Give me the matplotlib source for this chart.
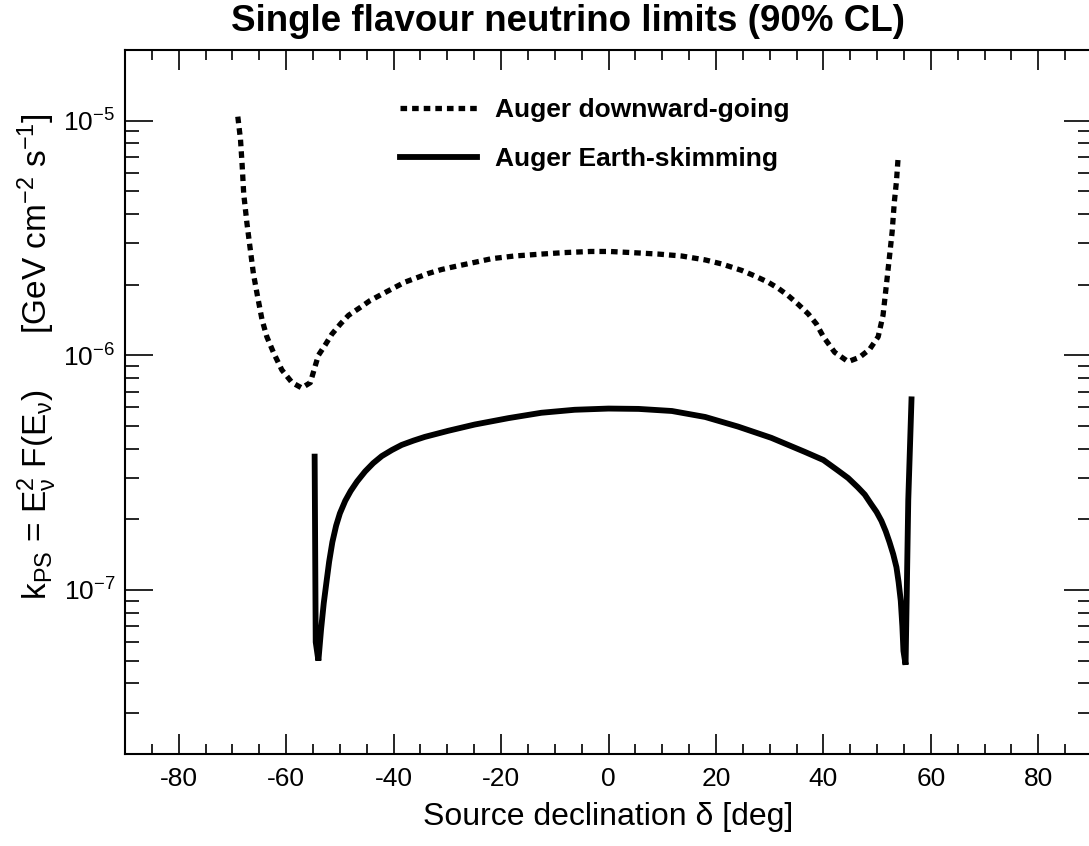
import numpy as np
import matplotlib
matplotlib.use("Agg")
import matplotlib.pyplot as plt
from matplotlib.ticker import LogLocator, NullFormatter, MultipleLocator

plt.rcParams['font.family'] = ['Liberation Sans', 'DejaVu Sans']
plt.rcParams['mathtext.fontset'] = 'custom'
plt.rcParams['mathtext.rm'] = 'Liberation Sans'
plt.rcParams['mathtext.it'] = 'Liberation Sans'
plt.rcParams['mathtext.default'] = 'regular'
plt.rcParams['axes.unicode_minus'] = False

# Auger downward-going (dotted), declination [deg] and limit [GeV cm^-2 s^-1]
dg_dec = [-69.0, -68.5, -68.2, -67.9, -67.3, -66.7, -66.1, -65.4, -64.5, -63.6,
          -62.3, -60.8, -58.9, -57.1, -55.5, -54.6, -54.0, -52.7, -51.5, -49.9,
          -48.4, -46.2, -44.4, -42.2, -40.1, -37.9, -35.7, -33.6, -31.1, -28.6,
          -24.9, -21.8, -17.5, -12.5, -8.2, -3.3, 0.2, 4.3, 9.3, 13.6,
          18.0, 21.1, 24.8, 27.2, 29.7, 31.6, 33.4, 35.3, 37.2, 38.7,
          40.0, 42.1, 44.6, 46.7, 48.6, 50.2, 51.1, 51.7, 52.3, 52.8,
          53.2, 53.6, 53.9]
dg_lim = [10.4e-6, 8.3e-6, 6.5e-6, 4.87e-6, 3.65e-6, 2.85e-6, 2.23e-6, 1.82e-6, 1.42e-6, 1.20e-6,
          1.02e-6, 8.66e-7, 7.65e-7, 7.26e-7, 7.65e-7, 9.0e-7, 1.0e-6, 1.11e-6, 1.23e-6, 1.36e-6,
          1.48e-6, 1.60e-6, 1.71e-6, 1.82e-6, 1.93e-6, 2.05e-6, 2.14e-6, 2.23e-6, 2.32e-6, 2.39e-6,
          2.49e-6, 2.58e-6, 2.65e-6, 2.70e-6, 2.74e-6, 2.77e-6, 2.77e-6, 2.74e-6, 2.70e-6, 2.65e-6,
          2.55e-6, 2.45e-6, 2.30e-6, 2.18e-6, 2.05e-6, 1.93e-6, 1.80e-6, 1.65e-6, 1.50e-6, 1.36e-6,
          1.20e-6, 1.03e-6, 0.94e-6, 0.98e-6, 1.06e-6, 1.20e-6, 1.48e-6, 1.97e-6, 2.63e-6, 3.36e-6,
          4.49e-6, 5.51e-6, 6.90e-6]

# Auger Earth-skimming (solid)
es_dec = [-54.7, -54.5, -54.0, -53.5, -53.0, -52.5, -52.0, -51.4, -50.7, -50.0,
          -49.0, -48.0, -46.8, -45.3, -43.8, -42.2, -40.3, -38.5, -36.3, -34.2,
          -29.8, -24.9, -18.6, -12.5, -6.3, 0.0, 5.6, 11.8, 18.0, 24.1,
          30.3, 36.5, 40.0, 42.7, 44.6, 46.4, 47.7, 48.9, 49.9, 50.8,
          51.6, 52.3, 53.0, 53.6, 54.0, 54.4, 54.7, 54.9, 55.3, 55.8,
          56.4]
es_lim = [3.7e-7, 0.60e-7, 0.50e-7, 0.68e-7, 0.88e-7, 1.08e-7, 1.32e-7, 1.60e-7, 1.88e-7, 2.12e-7,
          2.40e-7, 2.64e-7, 2.90e-7, 3.20e-7, 3.47e-7, 3.72e-7, 3.95e-7, 4.15e-7, 4.33e-7, 4.49e-7,
          4.77e-7, 5.07e-7, 5.40e-7, 5.69e-7, 5.86e-7, 5.93e-7, 5.91e-7, 5.79e-7, 5.46e-7, 4.97e-7,
          4.45e-7, 3.88e-7, 3.58e-7, 3.23e-7, 3.00e-7, 2.74e-7, 2.55e-7, 2.32e-7, 2.15e-7, 1.97e-7,
          1.78e-7, 1.60e-7, 1.42e-7, 1.25e-7, 1.08e-7, 0.90e-7, 0.70e-7, 0.55e-7, 0.48e-7, 2.42e-7,
          6.49e-7]

fig = plt.figure(figsize=(10.89, 8.46), dpi=100)
ax = fig.add_axes([125 / 1089, 92 / 846, 967 / 1089, 704 / 846])

ax.plot(dg_dec, dg_lim, color='black', lw=3.8, linestyle=(0, (1.25, 0.95)),
        dash_capstyle='butt', label='Auger downward-going')
ax.plot(es_dec, es_lim, color='black', lw=4.2, solid_joinstyle='miter',
        label='Auger Earth-skimming')

ax.set_yscale('log')
ax.set_xlim(-90, 90)
ax.set_ylim(2e-8, 2e-5)

ax.xaxis.set_major_locator(MultipleLocator(20))
ax.xaxis.set_minor_locator(MultipleLocator(5))
ax.yaxis.set_major_locator(LogLocator(base=10))
ax.yaxis.set_minor_locator(LogLocator(base=10, subs=np.arange(2, 10)))
ax.yaxis.set_minor_formatter(NullFormatter())

ax.tick_params(axis='both', which='both', direction='in', top=True, right=True,
               width=1.2, labelsize=19, colors='black')
ax.tick_params(axis='x', which='major', length=14.5, pad=9)
ax.tick_params(axis='x', which='minor', length=7)
ax.tick_params(axis='y', which='major', length=20, pad=7)
ax.tick_params(axis='y', which='minor', length=10)
for sp in ax.spines.values():
    sp.set_linewidth(1.5)

ax.set_xlabel('Source declination δ [deg]', fontsize=23, labelpad=8)
ax.set_ylabel(r'$k_{PS}$ = $E_{\nu}^{2}$ F($E_{\nu}$)      [GeV cm$^{-2}$ s$^{-1}$]',
              fontsize=24)
ax.yaxis.set_label_coords(-0.068, 0.564)

fig.text(0.522, 0.974, 'Single flavour neutrino limits (90% CL)', fontsize=26.5,
         fontweight='bold', ha='center', va='center')

leg = ax.legend(loc='upper left', bbox_to_anchor=(0.26, 0.965), frameon=False,
                prop={'weight': 'bold', 'size': 19}, handlelength=2.9,
                handletextpad=0.7, labelspacing=0.95)

fig.savefig('out.png', dpi=100)
